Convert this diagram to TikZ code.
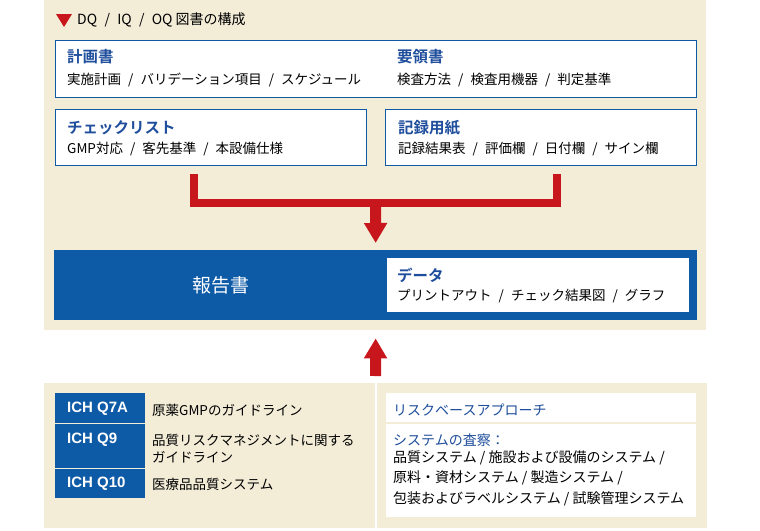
\documentclass[tikz,border=0pt]{standalone}
\usepackage{fontspec}
\setmainfont{Noto Sans CJK JP}[BoldFont={Noto Sans CJK JP Bold}]
\newfontfamily\ichfont{Liberation Sans}
\usetikzlibrary{arrows.meta}
\definecolor{panelbeige}{HTML}{F3EDD8}
\definecolor{docblue}{HTML}{0D5AA7}
\definecolor{headblue}{HTML}{1F4E9C}
\definecolor{flowred}{HTML}{C8161D}
\newcommand{\fsz}[1]{\fontsize{#1}{#1}\selectfont}
\newcommand{\slsep}{\hspace{0.52em}/\hspace{0.52em}}

\begin{document}
\begin{tikzpicture}[x=1pt, y=-1pt, >=Latex,
    panel/.style={fill=panelbeige},
    docbox/.style={draw=docblue, line width=1.3pt, fill=white, anchor=north west, inner sep=0pt},
    headtext/.style={anchor=west, inner sep=0pt, text=headblue, font=\bfseries\fsz{15.5}},
    bodytext/.style={anchor=west, inner sep=0pt, font=\fsz{13.5}},
    risktext/.style={anchor=west, inner sep=0pt, font=\fsz{14}},
    ichbox/.style={fill=docblue, anchor=north west, inner sep=0pt, minimum width=90pt},
    ichlabel/.style={anchor=west, text=white, inner sep=0pt, font=\ichfont\bfseries\fsz{15}},
    flow/.style={draw=flowred, line width=8pt},
    flowarrow/.style={draw=flowred, line width=11pt, -{Triangle[length=20pt, width=22pt]}}]
    \useasboundingbox (0,0) rectangle (760,530);
    \fill[panelbeige] (44,0) rectangle (706,330);
    \fill[panelbeige] (44,383) rectangle (375,528);
    \fill[panelbeige] (377,383) rectangle (707,528);

    \fill[flowred] (56,14) -- (72,14) -- (64,27) -- cycle;
    \node[bodytext, font=\fsz{14}] (title) at (77,20) {DQ\slsep IQ\slsep OQ 図書の構成};

    \node[docbox, minimum width=641pt, minimum height=57pt] (plan) at (55,40) {};
    \node[headtext] (planhead) at (67,57) {計画書};
    \node[bodytext] (planbody) at (67,80) {実施計画\slsep バリデーション項目\slsep スケジュール};
    \node[headtext] (prochead) at (397,57) {要領書};
    \node[bodytext] (procbody) at (397,80) {検査方法\slsep 検査用機器\slsep 判定基準};

    \node[docbox, minimum width=311pt, minimum height=56pt] (chk) at (55,109) {};
    \node[headtext] (chkhead) at (67,128) {チェックリスト};
    \node[bodytext] (chkbody) at (67,149) {GMP対応\slsep 客先基準\slsep 本設備仕様};

    \node[docbox, minimum width=311pt, minimum height=56pt] (rec) at (385,109) {};
    \node[headtext] (rechead) at (398,128) {記録用紙};
    \node[bodytext] (recbody) at (398,149) {記録結果表\slsep 評価欄\slsep 日付欄\slsep サイン欄};

    \node[fill=docblue, anchor=north west, inner sep=0pt, minimum width=643pt, minimum height=70pt] (report) at (54,250) {};
    \node[text=white, inner sep=0pt, font=\fsz{19}] (reportlabel) at (221,285) {報告書};
    \node[fill=white, anchor=north west, inner sep=0pt, minimum width=302pt, minimum height=54pt] (data) at (387,258) {};
    \node[headtext] (datahead) at (397,275) {データ};
    \node[bodytext] (databody) at (397,296) {プリントアウト\slsep チェック結果図\slsep グラフ};

    \coordinate (chkfoot) at (194,174);
    \coordinate (recfoot) at (557,174);
    \coordinate (join) at (375.5,203);
    \draw[flow] (chkfoot) |- (join) -| (recfoot);
    \draw[flowarrow, shorten >=7pt] (join) -- (report.north);

    \coordinate (riskfoot) at (375.5,376);
    \draw[flowarrow, shorten >=18pt] (riskfoot) -- (report.south);

    \node[ichbox, minimum height=30pt] (q7a) at (55,393) {};
    \node[ichbox, minimum height=44pt] (q9) at (55,424) {};
    \node[ichbox, minimum height=29pt] (q10) at (55,469) {};
    \node[ichlabel] (q7alabel) at (67,409) {ICH Q7A};
    \node[ichlabel] (q9label) at (67,440) {ICH Q9};
    \node[ichlabel] (q10label) at (67,484) {ICH Q10};
    \node[bodytext] (q7atext) at (152,410) {原薬GMPのガイドライン};
    \node[bodytext] (q9text) at (152,440) {品質リスクマネジメントに関する};
    \node[bodytext] (q9text2) at (152,457) {ガイドライン};
    \node[bodytext] (q10text) at (152,484) {医療品品質システム};

    \node[fill=white, anchor=north west, inner sep=0pt, minimum width=310pt, minimum height=124pt] (risk) at (386,393) {};
    \draw[panelbeige, line width=1.5pt] (386,423) -- (696,423);
    \node[risktext, text=headblue] (riskhead) at (393,410) {リスクベースアプローチ};
    \node[risktext, text=headblue] (insphead) at (393,440) {システムの査察：};
    \node[risktext] (insp1) at (393,458) {品質システム / 施設および設備のシステム /};
    \node[risktext] (insp2) at (393,478) {原料・資材システム / 製造システム /};
    \node[risktext] (insp3) at (393,499) {包装およびラベルシステム / 試験管理システム};
\end{tikzpicture}
\end{document}
